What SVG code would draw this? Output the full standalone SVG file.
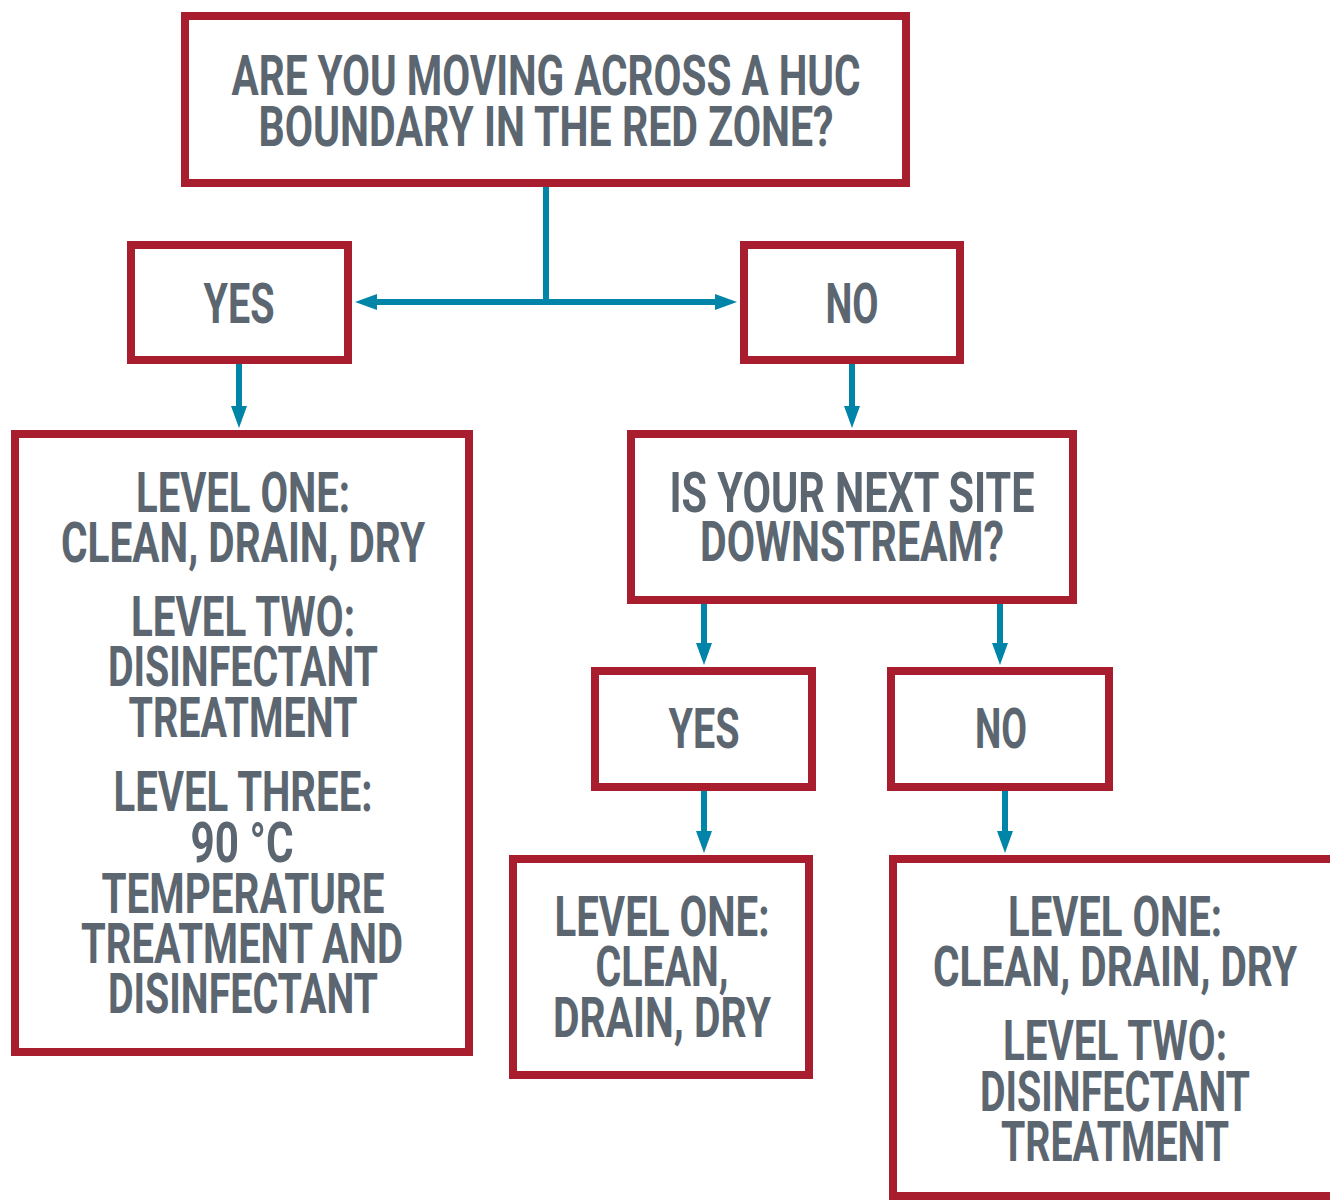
<svg xmlns="http://www.w3.org/2000/svg" width="1330" height="1201" viewBox="0 0 1330 1201">
<defs>
<style>
.box{fill:#fff;stroke:#a91e2f;stroke-width:8}
.t{font-family:Roboto,"Liberation Sans",sans-serif;font-weight:700;font-size:56px;fill:#5b6670;text-anchor:middle}
.c{stroke:#0085a8;stroke-width:6;fill:none}
</style>
<marker id="ah" markerUnits="userSpaceOnUse" markerWidth="24" markerHeight="18" refX="0" refY="8" orient="auto" overflow="visible">
<path d="M0,0 L22,8 L0,16 z" fill="#0085a8"/>
</marker>
</defs>
<rect width="1330" height="1201" fill="#fff"/>
<g id="connectors">
<path class="c" d="M546,187 V302"/>
<path class="c" d="M546,302 H377" marker-end="url(#ah)"/>
<path class="c" d="M546,302 H715" marker-end="url(#ah)"/>
<path class="c" d="M239,364 V406" marker-end="url(#ah)"/>
<path class="c" d="M852,364 V406" marker-end="url(#ah)"/>
<path class="c" d="M704,604 V643" marker-end="url(#ah)"/>
<path class="c" d="M1000,604 V643" marker-end="url(#ah)"/>
<path class="c" d="M704,791 V831" marker-end="url(#ah)"/>
<path class="c" d="M1005,791 V831" marker-end="url(#ah)"/>
</g>
<g id="q1">
<rect class="box" x="185" y="16" width="721" height="167"/>
<text class="t" x="546" y="95" textLength="629" lengthAdjust="spacingAndGlyphs">ARE YOU MOVING ACROSS A HUC</text>
<text class="t" x="546" y="146" textLength="575" lengthAdjust="spacingAndGlyphs">BOUNDARY IN THE RED ZONE?</text>
</g>
<g id="yes1">
<rect class="box" x="131" y="245" width="217" height="115"/>
<text class="t" x="239" y="323" textLength="71" lengthAdjust="spacingAndGlyphs">YES</text>
</g>
<g id="no1">
<rect class="box" x="744" y="245" width="216" height="115"/>
<text class="t" x="852" y="323" textLength="53" lengthAdjust="spacingAndGlyphs">NO</text>
</g>
<g id="levels123">
<rect class="box" x="15" y="434" width="454" height="618"/>
<text class="t" x="243" y="512" textLength="214" lengthAdjust="spacingAndGlyphs">LEVEL ONE:</text>
<text class="t" x="243" y="562" textLength="364" lengthAdjust="spacingAndGlyphs">CLEAN, DRAIN, DRY</text>
<text class="t" x="243" y="636" textLength="224" lengthAdjust="spacingAndGlyphs">LEVEL TWO:</text>
<text class="t" x="243" y="686" textLength="270" lengthAdjust="spacingAndGlyphs">DISINFECTANT</text>
<text class="t" x="243" y="737" textLength="229" lengthAdjust="spacingAndGlyphs">TREATMENT</text>
<text class="t" x="243" y="811" textLength="259" lengthAdjust="spacingAndGlyphs">LEVEL THREE:</text>
<text class="t" x="242" y="862" textLength="103" lengthAdjust="spacingAndGlyphs">90 °C</text>
<text class="t" x="243" y="913" textLength="283" lengthAdjust="spacingAndGlyphs">TEMPERATURE</text>
<text class="t" x="242" y="963" textLength="322" lengthAdjust="spacingAndGlyphs">TREATMENT AND</text>
<text class="t" x="243" y="1013" textLength="270" lengthAdjust="spacingAndGlyphs">DISINFECTANT</text>
</g>
<g id="q2">
<rect class="box" x="631" y="434" width="442" height="166"/>
<text class="t" x="852" y="512" textLength="365" lengthAdjust="spacingAndGlyphs">IS YOUR NEXT SITE</text>
<text class="t" x="852" y="561" textLength="304" lengthAdjust="spacingAndGlyphs">DOWNSTREAM?</text>
</g>
<g id="yes2">
<rect class="box" x="595" y="671" width="217" height="116"/>
<text class="t" x="704" y="748" textLength="71" lengthAdjust="spacingAndGlyphs">YES</text>
</g>
<g id="no2">
<rect class="box" x="891" y="671" width="218" height="116"/>
<text class="t" x="1001" y="748" textLength="52" lengthAdjust="spacingAndGlyphs">NO</text>
</g>
<g id="level1">
<rect class="box" x="513" y="859" width="296" height="216"/>
<text class="t" x="662" y="936" textLength="215" lengthAdjust="spacingAndGlyphs">LEVEL ONE:</text>
<text class="t" x="662" y="986" textLength="133" lengthAdjust="spacingAndGlyphs">CLEAN,</text>
<text class="t" x="662" y="1037" textLength="218" lengthAdjust="spacingAndGlyphs">DRAIN, DRY</text>
</g>
<g id="levels12">
<rect class="box" x="893" y="859" width="460" height="337"/>
<text class="t" x="1115" y="936" textLength="214" lengthAdjust="spacingAndGlyphs">LEVEL ONE:</text>
<text class="t" x="1115" y="986" textLength="364" lengthAdjust="spacingAndGlyphs">CLEAN, DRAIN, DRY</text>
<text class="t" x="1115" y="1060" textLength="224" lengthAdjust="spacingAndGlyphs">LEVEL TWO:</text>
<text class="t" x="1115" y="1111" textLength="270" lengthAdjust="spacingAndGlyphs">DISINFECTANT</text>
<text class="t" x="1115" y="1161" textLength="228" lengthAdjust="spacingAndGlyphs">TREATMENT</text>
</g>
</svg>
